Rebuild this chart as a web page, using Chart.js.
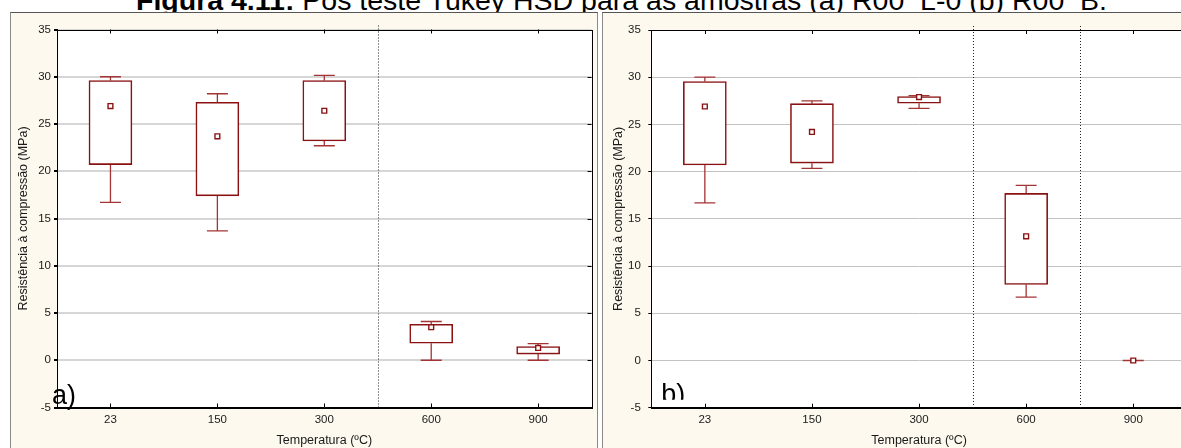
<!DOCTYPE html>
<html>
<head>
<meta charset="utf-8">
<script src="https://cdn.jsdelivr.net/npm/chart.js@4.4.0/dist/chart.umd.min.js"></script>
<style>
  html, body { margin: 0; padding: 0; width: 1181px; height: 448px; overflow: hidden; background: #fff; }
  body { position: relative; font-family: Arial, "Liberation Sans", sans-serif; }
  #titulo { position: absolute; left: 136px; top: -14px; font-size: 28.5px; line-height: 29px; white-space: nowrap; color: #000; }
  .quadro { position: absolute; top: 12px; height: 460px; background: #fdf9ee; border: 1px solid #8a8a8a; border-top-color: #555; box-sizing: border-box; }
  #quadroA { left: 10px; width: 588px; }
  #quadroB { left: 602px; width: 620px; }
  canvas { position: absolute; }
  #graficoA { left: 11px; top: 13px; }
  #graficoB { left: 603px; top: 13px; }
</style>
</head>
<body>
<div id="titulo"><b>Figura 4.11:</b> Pós teste Tukey HSD para as amostras (a) R00_L-0 (b) R00_B.</div>
<div class="quadro" id="quadroA"></div>
<div class="quadro" id="quadroB"></div>
<canvas id="graficoA" width="586" height="435"></canvas>
<canvas id="graficoB" width="590" height="435"></canvas>
<script>
// Categorias (temperatura)
const temperaturas = ['23', '150', '300', '600', '900'];

// Amostra (a) R00_L-0
const aMin   = [16.7, 13.7, 22.7, 0.0, 0.0];
const aQ1    = [20.7, 17.4, 23.2, 1.8, 0.65];
const aQ3    = [29.6, 27.3, 29.6, 3.8, 1.45];
const aMax   = [30.0, 28.2, 30.15, 4.1, 1.75];
const aMedia = [26.9, 23.7, 26.4, 3.5, 1.3];

// Amostra (b) R00_B
const bMin   = [16.7, 20.35, 26.7, 6.7, 0.0];
const bQ1    = [20.7, 20.9, 27.25, 8.05, 0.0];
const bQ3    = [29.55, 27.2, 27.95, 17.7, 0.0];
const bMax   = [30.0, 27.5, 28.05, 18.55, 0.0];
const bMedia = [26.9, 24.2, 27.9, 13.15, 0.0];

// Separadores entre grupos (posicao entre categorias)
const aSeparadores = [2.5];
const bSeparadores = [2.5, 3.5];

// Eixo y
const yMin = -5, yMax = 35, yPasso = 5;

const VINHO = '#8b1212';
const BIGODE = '#a33434';

Chart.defaults.font.family = 'Arial, "Liberation Sans", sans-serif';
Chart.defaults.color = '#1a1a1a';

// Plugin: fundo branco, bigodes, moldura, marcas e rotulo a)/b)
const boxPlugin = {
    id: 'boxExtras',
    beforeDraw(chart) {
        const { ctx, chartArea: a } = chart;
        ctx.save();
        ctx.fillStyle = '#fff';
        ctx.fillRect(a.left, a.top, a.right - a.left, a.bottom - a.top);
        ctx.restore();
    },
    beforeDatasetsDraw(chart, args, opts) {
        const { ctx } = chart;
        const xs = chart.scales.x, ys = chart.scales.y;
        ctx.save();
        ctx.strokeStyle = BIGODE;
        ctx.lineWidth = 1.3;
        opts.min.forEach((v, i) => {
            const x = xs.getPixelForValue(i);
            const yMn = ys.getPixelForValue(opts.min[i]);
            const yQ1 = ys.getPixelForValue(opts.q1[i]);
            const yQ3 = ys.getPixelForValue(opts.q3[i]);
            const yMx = ys.getPixelForValue(opts.max[i]);
            ctx.beginPath();
            ctx.moveTo(x, yQ1); ctx.lineTo(x, yMn);
            ctx.moveTo(x, yQ3); ctx.lineTo(x, yMx);
            ctx.moveTo(x - 10.5, yMn); ctx.lineTo(x + 10.5, yMn);
            ctx.moveTo(x - 10.5, yMx); ctx.lineTo(x + 10.5, yMx);
            ctx.stroke();
        });
        ctx.restore();
    },
    afterDraw(chart, args, opts) {
        const { ctx, chartArea: a } = chart;
        const xs = chart.scales.x, ys = chart.scales.y;
        ctx.save();
        // separadores pontilhados
        ctx.strokeStyle = '#222';
        ctx.lineWidth = 1;
        ctx.setLineDash([1, 2]);
        opts.separadores.forEach(s => {
            const x = Math.round(xs.getPixelForValue(s)) + 0.5;
            ctx.beginPath();
            ctx.moveTo(x, a.top - 4);
            ctx.lineTo(x, a.bottom);
            ctx.stroke();
        });
        ctx.setLineDash([]);
        // moldura
        ctx.strokeStyle = '#000';
        ctx.lineWidth = 1;
        ctx.strokeRect(Math.round(a.left) + 0.5, Math.round(a.top) + 0.5,
            Math.round(a.right - a.left), Math.round(a.bottom - a.top));
        // marcas internas
        ctx.beginPath();
        temperaturas.forEach((t, i) => {
            const x = Math.round(xs.getPixelForValue(i)) + 0.5;
            ctx.moveTo(x, a.top); ctx.lineTo(x, a.top + 4);
            ctx.moveTo(x, a.bottom); ctx.lineTo(x, a.bottom - 4);
        });
        ys.ticks.forEach(t => {
            const y = Math.round(ys.getPixelForValue(t.value)) + 0.5;
            ctx.moveTo(a.right, y); ctx.lineTo(a.right - 4, y);
        });
        ctx.stroke();
        // rotulo a) / b)
        ctx.fillStyle = '#000';
        ctx.font = '27px Arial, "Liberation Sans", sans-serif';
        ctx.textBaseline = 'alphabetic';
        if (opts.corte) {
            ctx.beginPath();
            ctx.rect(a.left + 1, a.top, a.right - a.left, a.bottom - a.top - 8);
            ctx.clip();
        }
        ctx.fillText(opts.rotulo, a.left + opts.dx, a.bottom - opts.dy);
        ctx.restore();
    }
};

function criarGrafico(id, dados, cfg) {
    const ctx = document.getElementById(id).getContext('2d');
    return new Chart(ctx, {
        type: 'bar',
        data: {
            labels: temperaturas,
            datasets: [{
                label: 'caixa',
                data: dados.q1.map((v, i) => [v, dados.q3[i]]),
                backgroundColor: '#ffffff',
                borderColor: VINHO,
                borderWidth: 1.6,
                borderSkipped: false,
                barThickness: 43,
                order: 2
            }, {
                type: 'line',
                label: 'média',
                data: dados.media,
                showLine: false,
                pointStyle: 'rect',
                pointRadius: 3.4,
                borderWidth: 1.4,
                borderColor: VINHO,
                backgroundColor: '#ffffff',
                order: 1
            }]
        },
        options: {
            responsive: false,
            animation: false,
            layout: { padding: { left: 0, top: cfg.topo, right: cfg.direita, bottom: 0 } },
            scales: {
                x: {
                    offset: true,
                    grid: { display: false, drawTicks: false },
                    border: { display: true, color: '#000' },
                    ticks: { font: { size: 11.5 }, padding: 5.5, color: '#1a1a1a' },
                    title: { display: true, text: 'Temperatura (ºC)', font: { size: 12.5 }, padding: { top: 0, bottom: 0 }, color: '#1a1a1a' },
                    afterFit(s) { s.height = cfg.alturaX; }
                },
                y: {
                    min: yMin, max: yMax,
                    ticks: { stepSize: yPasso, font: { size: 11.5 }, padding: cfg.padY, color: '#1a1a1a' },
                    grid: { color: cfg.corGrade, lineWidth: cfg.larguraGrade, tickColor: '#000', tickLength: 3 },
                    border: { display: true, color: '#000' },
                    title: { display: true, text: 'Resistência à compressão (MPa)', font: { size: 12.5 }, padding: { top: cfg.padTitulo, bottom: 0 }, color: '#1a1a1a' },
                    afterFit(s) { s.width = cfg.larguraY; }
                }
            },
            plugins: {
                legend: { display: false },
                tooltip: { enabled: false },
                boxExtras: {
                    min: dados.min, q1: dados.q1, q3: dados.q3, max: dados.max,
                    separadores: cfg.separadores,
                    rotulo: cfg.rotulo, dx: cfg.dx, dy: cfg.dy, corte: cfg.corte
                }
            }
        },
        plugins: [boxPlugin]
    });
}

document.addEventListener('DOMContentLoaded', () => {
    criarGrafico('graficoA',
        { min: aMin, q1: aQ1, q3: aQ3, max: aMax, media: aMedia },
        { topo: 16.5, direita: 4, alturaX: 40.5, larguraY: 46, padY: 3, padTitulo: 4.8,
          corGrade: '#d6d6d6', larguraGrade: 2, separadores: aSeparadores,
          rotulo: 'a)', dx: -5, dy: 4, corte: false });
    criarGrafico('graficoB',
        { min: bMin, q1: bQ1, q3: bQ3, max: bMax, media: bMedia },
        { topo: 17, direita: 6.2, alturaX: 40.3, larguraY: 48.3, padY: 7.5, padTitulo: 7.8,
          corGrade: '#c2c2c2', larguraGrade: 1, separadores: bSeparadores,
          rotulo: 'b)', dx: 10, dy: 5, corte: true });
});
</script>
</body>
</html>
